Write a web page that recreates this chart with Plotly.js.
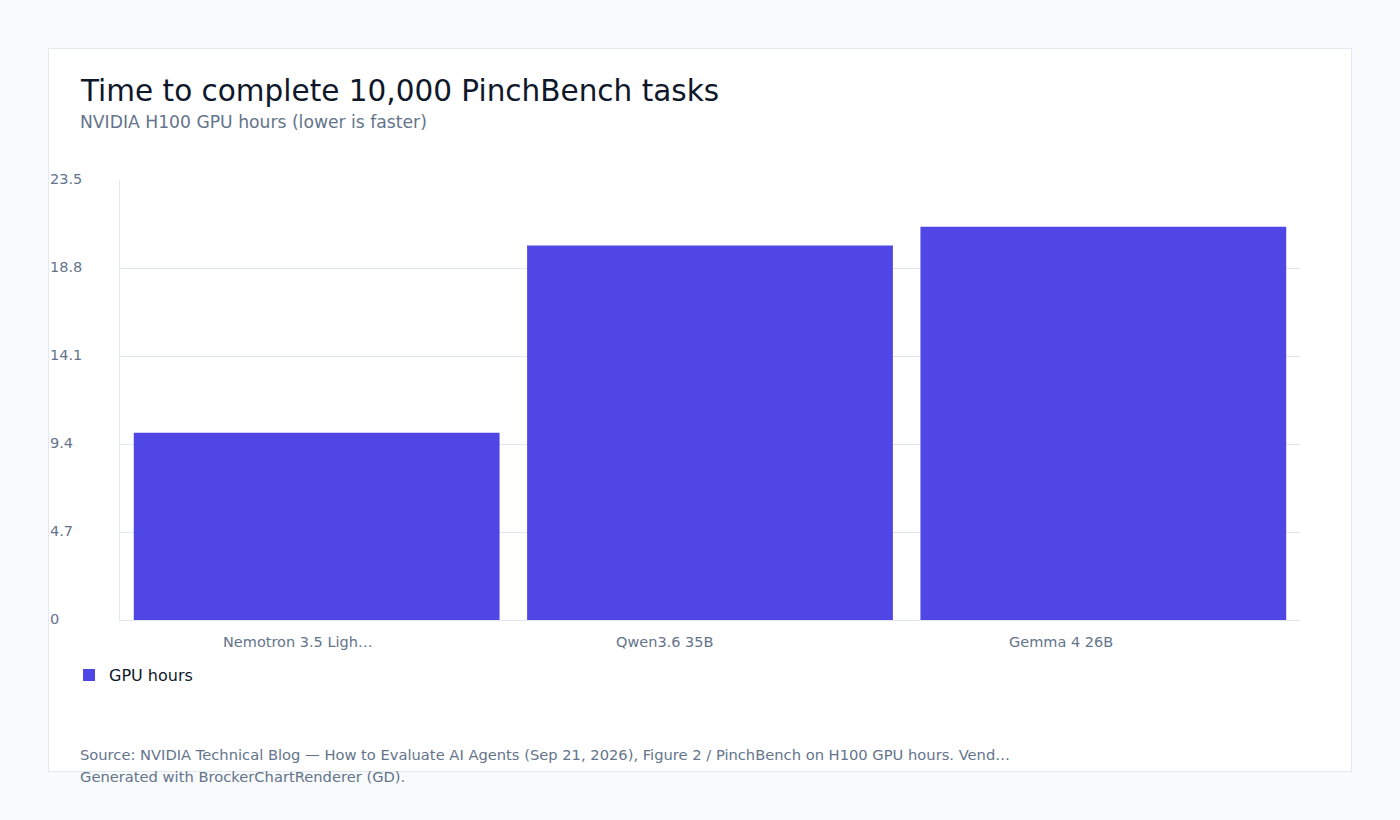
<!DOCTYPE html>
<html>
<head>
<meta charset="utf-8">
<script src="https://cdn.plot.ly/plotly-3.0.1.min.js"></script>
<style>
  html, body { margin: 0; padding: 0; background: #f8fafc; }
  #card {
    position: absolute; left: 48px; top: 48px;
    width: 1302px; height: 722px;
    background: #ffffff; border: 1px solid #e2e8f0;
  }
  #chart { position: absolute; left: 0; top: 0; width: 1400px; height: 820px; }
</style>
</head>
<body>
<div id="card"></div>
<div id="chart"></div>
<script>
const models = ['Nemotron 3.5 Ligh…', 'Qwen3.6 35B', 'Gemma 4 26B'];
const gpuHours = [10.0, 20.0, 21.0];
const yTicks = [0, 4.7, 9.4, 14.1, 18.8, 23.5];
const yTickText = ['0', '4.7', '9.4', '14.1', '18.8', '23.5'];

const font = 'DejaVu Sans, sans-serif';
const muted = '#64748b';
const dark = '#0f172a';
const grid = '#e2e8f0';

const trace = {
  type: 'bar',
  x: models,
  y: gpuHours,
  name: 'GPU hours',
  marker: { color: '#4f46e5' },
  hoverinfo: 'x+y'
};

// tick labels are left aligned in the reference, so draw them as annotations
const annotations = [];
yTicks.forEach((v, i) => {
  annotations.push({
    xref: 'paper', yref: 'y', x: -0.0593, y: v,
    xanchor: 'left', yanchor: 'middle', xshift: -2, yshift: 1,
    text: yTickText[i], showarrow: false,
    font: { family: font, size: 14.5, color: muted }
  });
});
models.forEach(m => {
  annotations.push({
    xref: 'x', yref: 'paper', x: m, y: 0,
    xanchor: 'left', yanchor: 'top', xshift: -96, yshift: -12,
    text: m, showarrow: false,
    font: { family: font, size: 14.5, color: muted }
  });
});
annotations.push(
  {
    xref: 'paper', yref: 'paper', x: -0.0339, y: 1.2, xshift: -2, yshift: 1,
    xanchor: 'left', yanchor: 'middle',
    text: 'Time to complete 10,000 PinchBench tasks', showarrow: false,
    font: { family: font, size: 29.5, color: dark }
  },
  {
    xref: 'paper', yref: 'paper', x: -0.0339, y: 1.127, xshift: -2, yshift: 2,
    xanchor: 'left', yanchor: 'middle',
    text: 'NVIDIA H100 GPU hours (lower is faster)', showarrow: false,
    font: { family: font, size: 17.2, color: muted }
  },
  {
    xref: 'paper', yref: 'paper', x: -0.0339, y: -0.3068, xshift: -2,
    xanchor: 'left', yanchor: 'middle',
    text: 'Source: NVIDIA Technical Blog — How to Evaluate AI Agents (Sep 21, 2026), Figure 2 / PinchBench on H100 GPU hours. Vend…',
    showarrow: false,
    font: { family: font, size: 14.7, color: muted }
  },
  {
    xref: 'paper', yref: 'paper', x: -0.0339, y: -0.3568, xshift: -2,
    xanchor: 'left', yanchor: 'middle',
    text: 'Generated with BrockerChartRenderer (GD).', showarrow: false,
    font: { family: font, size: 14.7, color: muted }
  }
);

const layout = {
  width: 1400,
  height: 820,
  margin: { l: 120, r: 100, t: 180, b: 200 },
  paper_bgcolor: 'rgba(0,0,0,0)',
  plot_bgcolor: 'rgba(0,0,0,0)',
  font: { family: font, color: muted },
  bargap: 0.07,
  showlegend: true,
  legend: {
    orientation: 'h',
    x: -0.0432, xanchor: 'left',
    y: -0.1255, yanchor: 'middle',
    font: { family: font, size: 16, color: dark },
    bgcolor: 'rgba(0,0,0,0)'
  },
  xaxis: {
    showticklabels: false,
    ticks: '',
    showgrid: false,
    showline: true,
    linecolor: grid,
    linewidth: 1,
    fixedrange: true
  },
  yaxis: {
    range: [0, 23.5],
    tickvals: yTicks,
    showticklabels: false,
    ticks: '',
    showgrid: true,
    gridcolor: grid,
    gridwidth: 1,
    zeroline: false,
    showline: true,
    linecolor: grid,
    linewidth: 1,
    fixedrange: true
  },
  annotations: annotations
};

Plotly.newPlot('chart', [trace], layout, { displayModeBar: false, responsive: false });
</script>
</body>
</html>
